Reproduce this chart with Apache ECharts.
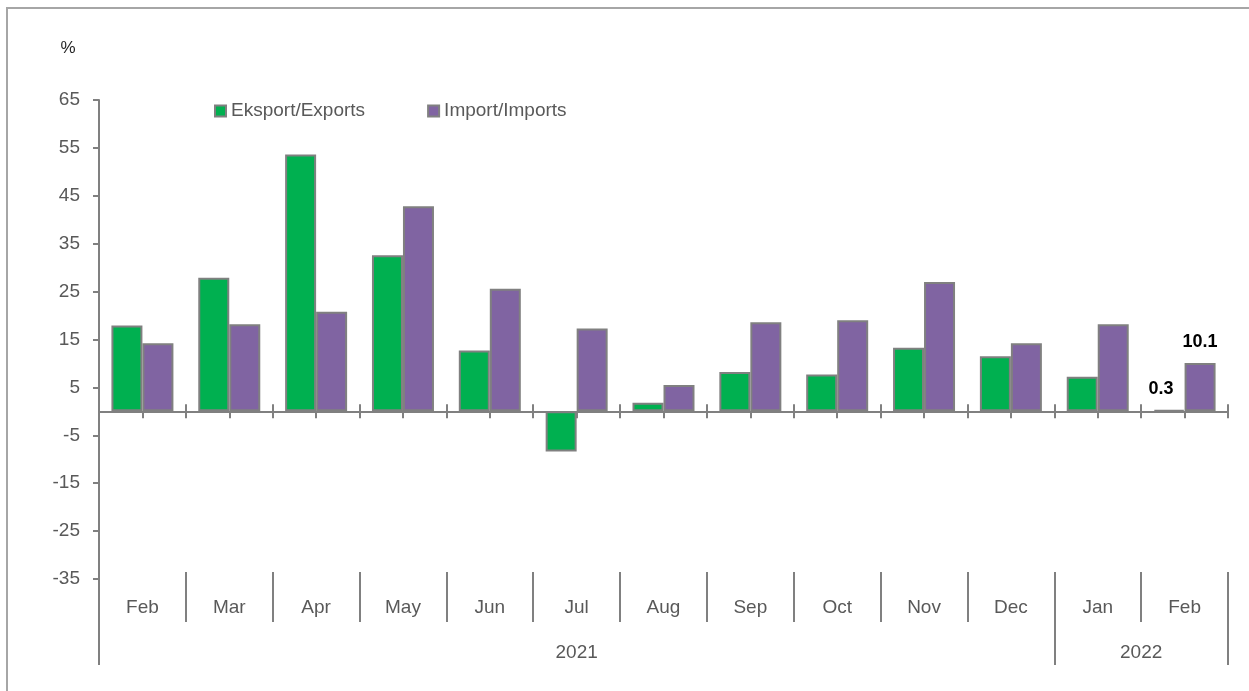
<!DOCTYPE html>
<html>
<head>
<meta charset="utf-8">
<title>Eksport / Import</title>
<script src="https://cdn.jsdelivr.net/npm/echarts@6/dist/echarts.min.js"></script>
<style>
  html, body { margin: 0; padding: 0; background: #ffffff; }
  #chart { width: 1249px; height: 691px; }
</style>
</head>
<body>
<div id="chart"></div>
<script>
// Monthly growth, % (Feb 2021 – Feb 2022)
const months = ['Feb', 'Mar', 'Apr', 'May', 'Jun', 'Jul', 'Aug', 'Sep', 'Oct', 'Nov', 'Dec', 'Jan', 'Feb'];
const years = ['2021', '2022'];
const yearSpans = [11, 2];
const exportsData = [17.9, 27.9, 53.6, 32.6, 12.7, -8.4, 1.8, 8.2, 7.7, 13.3, 11.5, 7.2, 0.3];
const importsData = [14.2, 18.2, 20.8, 42.8, 25.6, 17.3, 5.5, 18.6, 19.0, 27.0, 14.2, 18.2, 10.1];
const yTicks = [-35, -25, -15, -5, 5, 15, 25, 35, 45, 55, 65];
const seriesNames = ['Eksport/Exports', 'Import/Imports'];
const labelledIndex = months.length - 1;

const FONT = '"Liberation Sans", Arial, sans-serif';
const AXIS_GRAY = '#808080';
const TEXT_GRAY = '#595959';

// year boundaries and year label centres along the category index scale
const yearEdges = [0];
const yearCentres = [];
yearSpans.forEach(function (s, i) {
  const start = yearEdges[i];
  yearEdges.push(start + s);
  yearCentres.push(start + s / 2);
});

function withLabel(arr, offsetX) {
  return arr.map(function (v, i) {
    if (i !== labelledIndex) return v;
    return {
      value: v,
      label: {
        show: true,
        position: 'top',
        distance: 12,
        offset: [offsetX, 0],
        formatter: function (p) { return Number(p.value).toFixed(1); },
        color: '#000000',
        fontFamily: FONT,
        fontWeight: 'bold',
        fontSize: 18
      }
    };
  });
}

const zeroAxisBase = {
  type: 'category',
  data: months,
  position: 'bottom',
  boundaryGap: true,
  axisLabel: { show: false },
  splitLine: { show: false }
};

const chart = echarts.init(document.getElementById('chart'), null, { renderer: 'canvas' });

chart.setOption({
  animation: false,
  backgroundColor: '#ffffff',
  textStyle: { fontFamily: FONT },
  grid: {
    left: 99, right: 21, top: 100, bottom: 112,
    containLabel: false,
    outerBoundsMode: 'none'
  },
  legend: {
    left: 209,
    top: 96,
    itemWidth: 11,
    itemHeight: 11,
    itemGap: 62,
    icon: 'rect',
    data: seriesNames,
    textStyle: { color: TEXT_GRAY, fontSize: 19, fontFamily: FONT, lineHeight: 20 }
  },
  graphic: [
    {
      type: 'rect',
      silent: true,
      shape: { x: 7, y: 8, width: 1400, height: 800 },
      style: { fill: 'none', stroke: '#a6a6a6', lineWidth: 2 },
      z: 0
    },
    {
      type: 'text',
      silent: true,
      x: 68,
      y: 48,
      style: {
        text: '%',
        fill: '#262626',
        font: '17px ' + FONT,
        textAlign: 'center',
        textVerticalAlign: 'middle'
      }
    }
  ],
  xAxis: [
    // zero line with boundary ticks pointing down
    Object.assign({}, zeroAxisBase, {
      axisLine: { show: true, onZero: true, onZeroAxisIndex: 0, lineStyle: { color: AXIS_GRAY, width: 2 } },
      axisTick: { show: true, inside: false, length: 7, alignWithLabel: false, lineStyle: { color: AXIS_GRAY, width: 2 } }
    }),
    // boundary ticks pointing up (crossing marks)
    Object.assign({}, zeroAxisBase, {
      axisLine: { show: false, onZero: true, onZeroAxisIndex: 0 },
      axisTick: { show: true, inside: true, length: 7, alignWithLabel: false, lineStyle: { color: AXIS_GRAY, width: 2 } }
    }),
    // centre ticks pointing down
    Object.assign({}, zeroAxisBase, {
      axisLine: { show: false, onZero: true, onZeroAxisIndex: 0 },
      axisTick: { show: true, inside: false, length: 7, alignWithLabel: true, lineStyle: { color: AXIS_GRAY, width: 2 } }
    }),
    // month labels with separators
    {
      type: 'category',
      data: months,
      position: 'bottom',
      offset: -7,
      boundaryGap: true,
      axisLine: { show: false, onZero: false },
      axisTick: { show: true, inside: false, length: 50, alignWithLabel: false, lineStyle: { color: AXIS_GRAY, width: 2 } },
      axisLabel: { show: true, margin: 26, color: TEXT_GRAY, fontSize: 19, fontFamily: FONT, interval: 0 },
      splitLine: { show: false }
    },
    // year labels with long separators
    {
      type: 'value',
      min: 0,
      max: months.length,
      position: 'bottom',
      offset: -7,
      axisLine: { show: false, onZero: false },
      axisTick: { show: true, inside: false, length: 93, customValues: yearEdges, lineStyle: { color: AXIS_GRAY, width: 2 } },
      axisLabel: {
        show: true,
        margin: 71,
        customValues: yearCentres,
        color: TEXT_GRAY,
        fontSize: 19,
        fontFamily: FONT,
        formatter: function (v) {
          const idx = yearCentres.indexOf(v);
          return idx >= 0 ? years[idx] : '';
        }
      },
      splitLine: { show: false }
    }
  ],
  yAxis: {
    type: 'value',
    min: yTicks[0],
    max: yTicks[yTicks.length - 1],
    axisLine: { show: true, onZero: false, lineStyle: { color: AXIS_GRAY, width: 2 } },
    axisTick: { show: true, inside: false, length: 6, customValues: yTicks, lineStyle: { color: AXIS_GRAY, width: 2 } },
    axisLabel: { show: true, margin: 19, customValues: yTicks, color: TEXT_GRAY, fontSize: 19, fontFamily: FONT },
    splitLine: { show: false }
  },
  series: [
    {
      name: seriesNames[0],
      type: 'bar',
      xAxisIndex: 0,
      yAxisIndex: 0,
      barWidth: 31,
      barGap: '0%',
      itemStyle: { color: '#00B050', borderColor: AXIS_GRAY, borderWidth: 2 },
      data: withLabel(exportsData, -8)
    },
    {
      name: seriesNames[1],
      type: 'bar',
      xAxisIndex: 0,
      yAxisIndex: 0,
      barWidth: 31,
      barGap: '0%',
      itemStyle: { color: '#8064A2', borderColor: AXIS_GRAY, borderWidth: 2 },
      data: withLabel(importsData, 0)
    }
  ]
});
</script>
</body>
</html>
